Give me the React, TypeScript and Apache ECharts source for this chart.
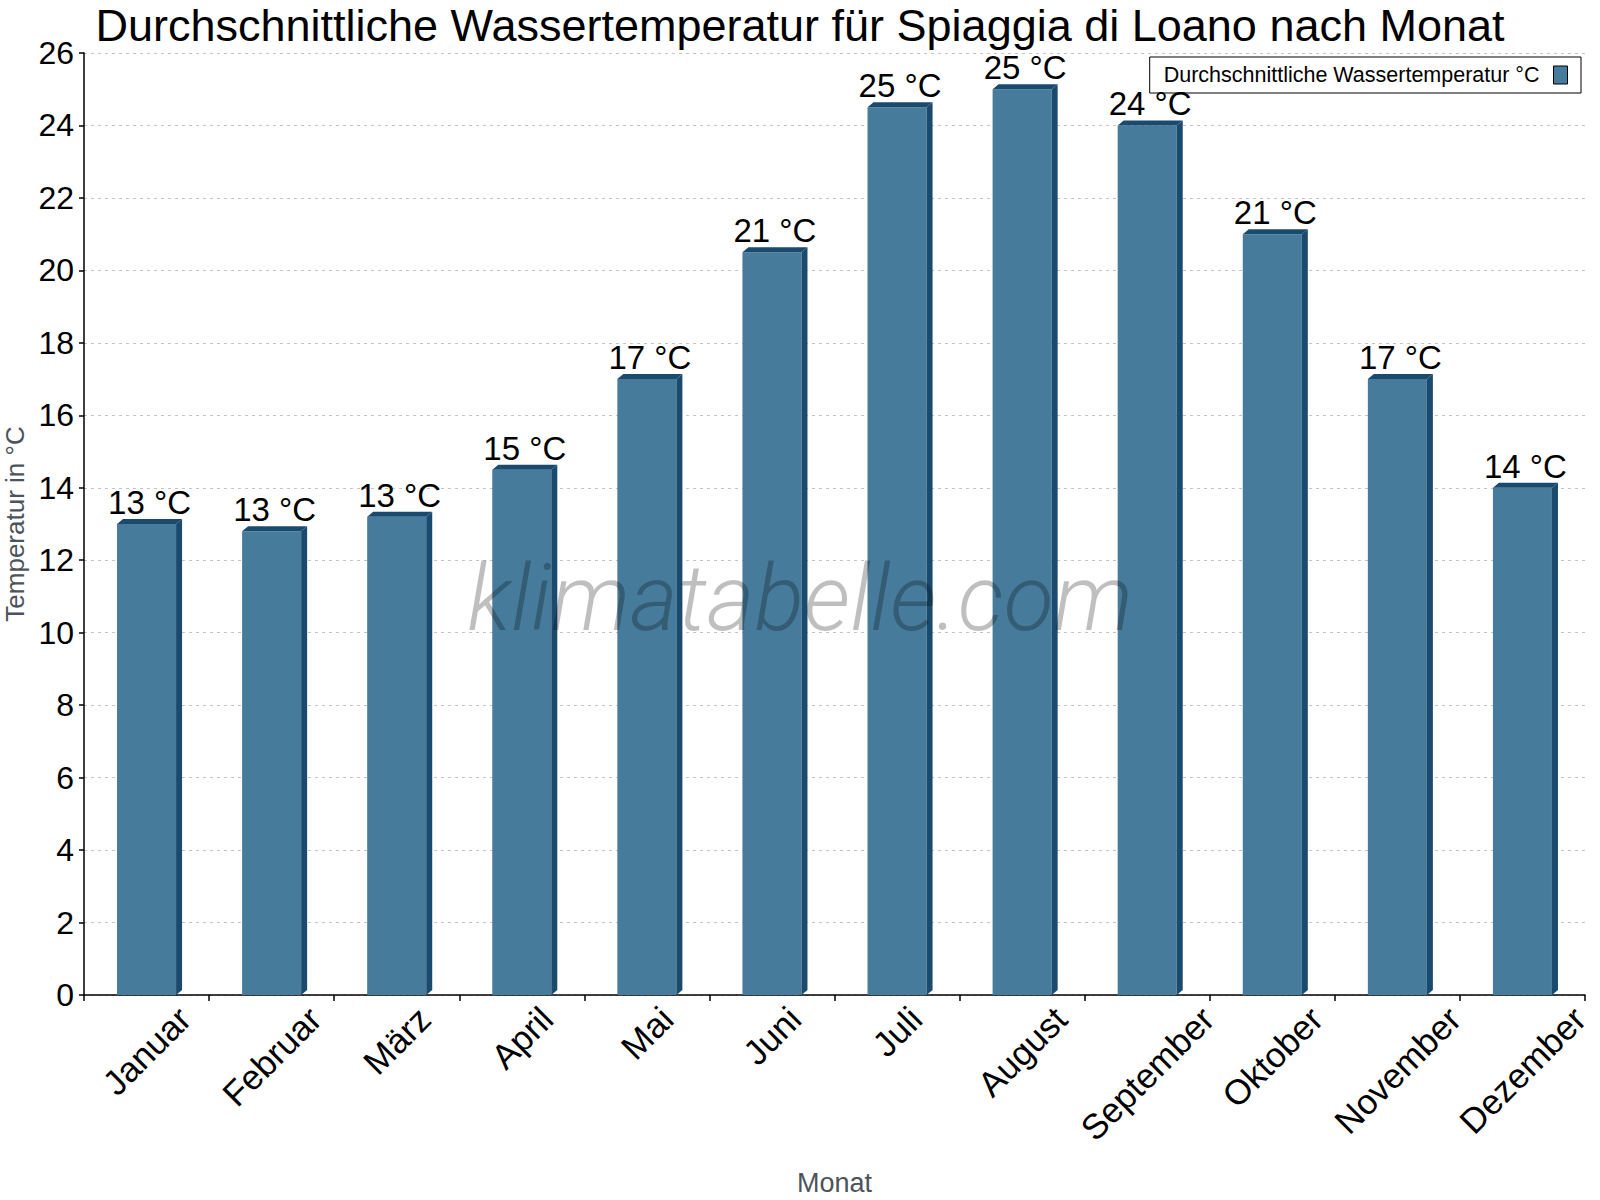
import React, { useEffect, useRef } from "react";
import * as echarts from "echarts";

const titleText = "Durchschnittliche Wassertemperatur für Spiaggia di Loano nach Monat";
const seriesName = "Durchschnittliche Wassertemperatur °C";
const categories = ["Januar", "Februar", "März", "April", "Mai", "Juni", "Juli", "August", "September", "Oktober", "November", "Dezember"];
const values = [13, 12.8, 13.2, 14.5, 17, 20.5, 24.5, 25, 24, 21, 17, 14];
const yTicks = { min: 0, max: 26, interval: 2 };

const FONT = "'Liberation Sans', Arial, sans-serif";
const FRONT = "#467b9c";
const DARK = "#1a4b6e";

function measure(text: string, size: number): number {
  const c = document.createElement("canvas");
  const ctx = c.getContext("2d");
  if (!ctx) return text.length * size * 0.55;
  ctx.font = `${size}px 'Liberation Sans', Arial, sans-serif`;
  return ctx.measureText(text).width;
}

export default function App() {
  const ref = useRef<HTMLDivElement>(null);
  useEffect(() => {
    if (!ref.current) return;
    const chart = echarts.init(ref.current, undefined, { renderer: "svg" });
    const labelSize = 35;
    const rich: Record<string, any> = {};
    categories.forEach((c, i) => {
      const L = measure(c, labelSize);
      rich["c" + i] = {
        padding: [L / 2, L / 2, 0, 0],
        fontSize: labelSize,
        fontFamily: FONT,
        color: "#000",
      };
    });
    const dx = 6;
    const dy = 5;
    const option: any = {
      animation: false,
      backgroundColor: "#fff",
      title: {
        text: titleText,
        left: "center",
        top: 3,
        padding: 0,
        textStyle: { fontSize: 45, lineHeight: 45, fontWeight: "normal", color: "#000", fontFamily: FONT },
      },
      legend: {
        right: 19,
        top: 57,
        align: "right",
        icon: "rect",
        itemWidth: 14,
        itemHeight: 18,
        padding: [7, 13, 7, 14],
        borderColor: "#000",
        borderWidth: 1,
        borderRadius: 0,
        itemStyle: { borderColor: "#000", borderWidth: 1, color: FRONT },
        textStyle: { fontSize: 21.5, color: "#000", fontFamily: FONT, padding: [0, 9, 0, 0] },
        data: [seriesName],
      },
      grid: { left: 84, right: 15, top: 53, bottom: 205, containLabel: false, outerBoundsMode: "none" },
      xAxis: {
        type: "category",
        data: categories,
        name: "Monat",
        nameLocation: "middle",
        nameGap: 174,
        nameTextStyle: { fontSize: 27, color: "#4d535b", fontFamily: FONT },
        axisLine: { lineStyle: { color: "#000", width: 1.5 } },
        axisTick: { show: true, length: 6, lineStyle: { color: "#000", width: 1.5 } },
        axisLabel: {
          rotate: 45,
          margin: 18,
          align: "center",
          verticalAlign: "middle",
          interval: 0,
          fontSize: labelSize,
          fontFamily: FONT,
          color: "#000",
          formatter: (val: string) => `{c${categories.indexOf(val)}|${val}}`,
          rich,
        },
        splitLine: { show: false },
      },
      yAxis: {
        type: "value",
        min: yTicks.min,
        max: yTicks.max,
        interval: yTicks.interval,
        name: "Temperatur in °C",
        nameLocation: "middle",
        nameGap: 40,
        nameTextStyle: { fontSize: 26, color: "#4d535b", fontFamily: FONT },
        axisLine: { show: true, lineStyle: { color: "#000", width: 1.5 } },
        axisTick: { show: true, length: 5, lineStyle: { color: "#000", width: 1.5 } },
        axisLabel: { fontSize: 32, color: "#000", fontFamily: FONT, margin: 10 },
        splitLine: { show: true, lineStyle: { color: "#c4c4c4", type: [3, 4], width: 1 } },
      },
      graphic: [
        {
          type: "text",
          z: 100,
          left: "center",
          top: 552,
          silent: true,
          style: {
            text: "klimatabelle.com",
            fontSize: 92,
            fontStyle: "italic",
            fontWeight: 300,
            fontFamily: "Roboto, 'Open Sans', sans-serif",
            fill: "rgba(0,0,0,0.25)",
          },
        },
      ],
      series: [
        {
          type: "custom",
          name: seriesName,
          itemStyle: { color: FRONT },
          encode: { x: 0, y: 1 },
          data: values.map((v, i) => [i, v]),
          renderItem: (params: any, api: any) => {
            const idx = api.value(0);
            const v = api.value(1);
            const top = api.coord([idx, v]);
            const base = api.coord([idx, 0]);
            const band = api.size([1, 0])[0];
            const w = band * 0.472;
            const x0 = top[0] - w / 2;
            const x1 = top[0] + w / 2;
            const yt = top[1];
            const yb = base[1];
            return {
              type: "group",
              children: [
                { type: "rect", shape: { x: x0, y: yt, width: w, height: yb - yt }, style: { fill: FRONT } },
                {
                  type: "polygon",
                  shape: { points: [[x1, yt], [x1 + dx, yt - dy], [x1 + dx, yb - dy], [x1, yb]] },
                  style: { fill: DARK },
                },
                {
                  type: "polygon",
                  shape: { points: [[x0, yt], [x0 + dx, yt - dy], [x1 + dx, yt - dy], [x1, yt]] },
                  style: { fill: DARK },
                },
                {
                  type: "text",
                  style: {
                    text: Math.round(v) + " °C",
                    x: top[0] + dx / 2,
                    y: yt - dy,
                    align: "center",
                    verticalAlign: "bottom",
                    fontSize: 33,
                    fontFamily: FONT,
                    fill: "#000",
                  },
                },
              ],
            };
          },
        },
      ],
    };
    chart.setOption(option);
    return () => chart.dispose();
  }, []);
  return <div ref={ref} style={{ position: "fixed", left: 0, top: 0, width: 1600, height: 1200 }} />;
}
